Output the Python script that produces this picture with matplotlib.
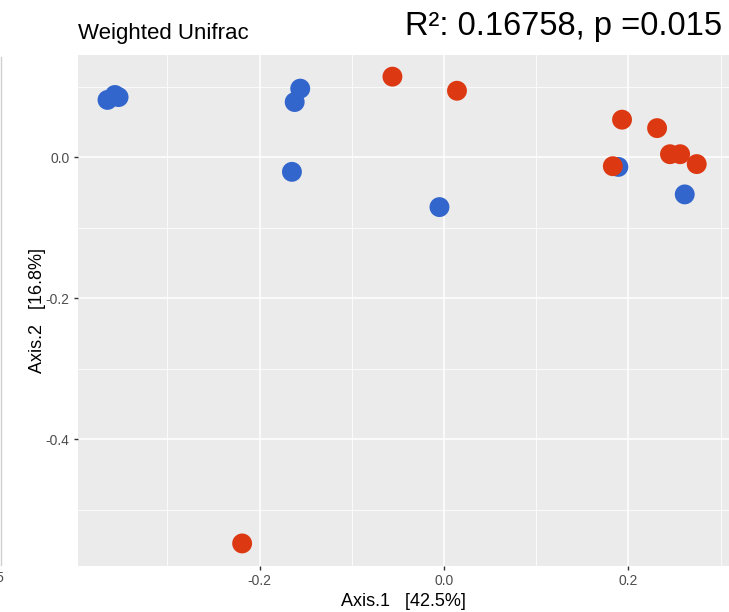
import matplotlib.pyplot as plt
import matplotlib
from matplotlib.lines import Line2D
from matplotlib.ticker import MultipleLocator

matplotlib.rcParams.update(
    {
        'font.family': ['Liberation Sans', 'DejaVu Sans'],
        'font.size': 10,
        'axes.unicode_minus': False   # plain hyphen like the original
    }
)

# ordination coordinates
blue_x = [-0.365, -0.357, -0.353, -0.156, -0.162, -0.165, -0.005, 0.189, 0.261]
blue_y = [0.081, 0.088, 0.085, 0.097, 0.078, -0.021, -0.071, -0.014, -0.053]
red_x = [-0.056, 0.014, 0.193, 0.231, 0.245, 0.256, 0.274, 0.183, -0.219]
red_y = [0.114, 0.094, 0.053, 0.041, 0.004, 0.004, -0.010, -0.013, -0.548]

title_left = 'Weighted Unifrac'
title_right = 'R\u00b2: 0.16758, p =0.015'
xlab = 'Axis.1   [42.5%]'
ylab = 'Axis.2   [16.8%]'

W, H = 729, 612
fig = plt.figure(figsize=(W / 100, H / 100), dpi=100)
ax = fig.add_axes([78 / W, (H - 566) / H, (W - 78) / W, (566 - 55) / H])
ax.set_facecolor('#EBEBEB')

ax.scatter(blue_x, blue_y, s=205, color='#3366CC', edgecolors='none', zorder=3)
ax.scatter(red_x, red_y, s=205, color='#DC3912', edgecolors='none', zorder=4)

ax.set_xlim(-0.397, 0.309)
ax.set_ylim(-0.580, 0.1447)
ax.xaxis.set_major_locator(MultipleLocator(0.2))
ax.yaxis.set_major_locator(MultipleLocator(0.2))
ax.xaxis.set_minor_locator(MultipleLocator(0.1))
ax.yaxis.set_minor_locator(MultipleLocator(0.1))
ax.grid(which='major', color='white', linewidth=1.1, zorder=0)
ax.grid(which='minor', color='white', linewidth=0.55, zorder=0)
ax.set_axisbelow(True)
ax.tick_params(which='major', length=3, width=1, color='#333333',
               labelcolor='#4D4D4D', labelsize=10, pad=3)
ax.tick_params(which='minor', length=0)
for s in ax.spines.values():
    s.set_visible(False)

ax.set_xlabel(xlab, fontsize=13, labelpad=3)
ax.set_ylabel(ylab, fontsize=13, labelpad=0)

fig.text(78 / W, 1 - 33 / H, title_left, fontsize=16, ha='left', va='center')
fig.text(722 / W, 1 - 27 / H, title_right, fontsize=23.5, ha='right', va='center')

# remnant of the neighbouring panel on the left
fig.add_artist(Line2D([1 / W, 1 / W], [(H - 565) / H, (H - 57) / H],
                      color='#D0D0D0', linewidth=1))
fig.text(4 / W, 1 - 578 / H, '-0.5', fontsize=10, color='#4D4D4D',
         ha='right', va='center')

plt.savefig('out.png', dpi=100)
